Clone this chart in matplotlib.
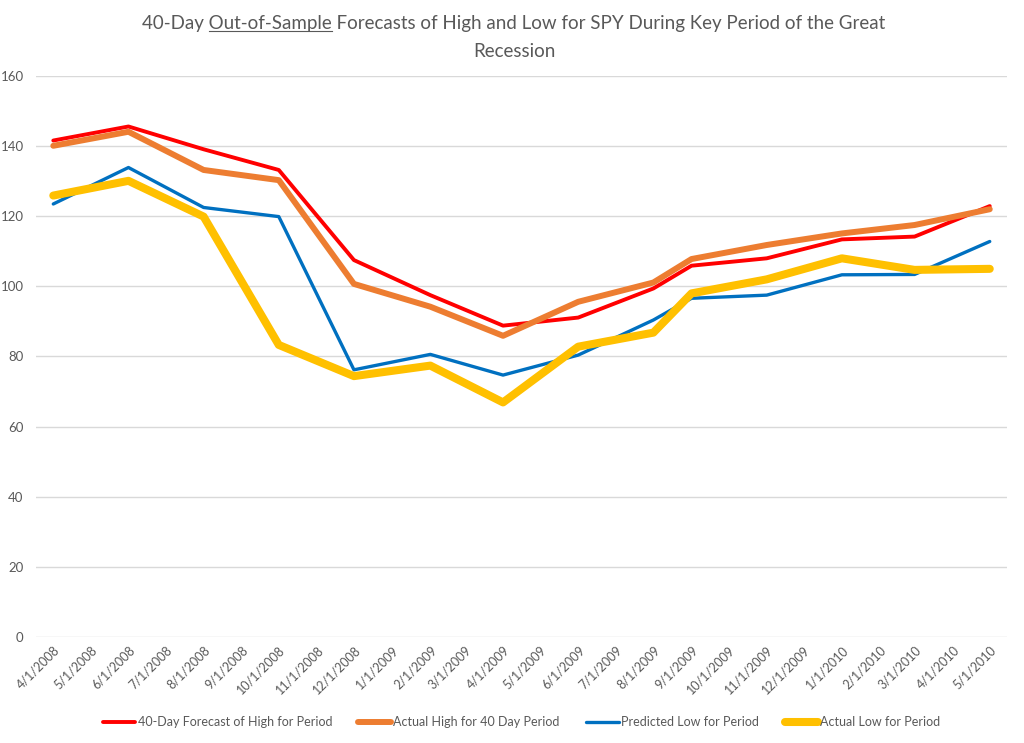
import datetime as dt
import numpy as np
import matplotlib
matplotlib.use("Agg")
from matplotlib import pyplot as plt
import matplotlib.dates as mdates

plt.rcParams['font.family'] = ['Lato', 'DejaVu Sans']

# данные
dates = ["2008-04-01", "2008-06-01", "2008-08-01", "2008-10-01", "2008-12-01",
         "2009-02-01", "2009-04-01", "2009-06-01", "2009-08-01", "2009-09-01",
         "2009-11-01", "2010-01-01", "2010-03-01", "2010-05-01"]
forecast_high = [141.6, 145.6, 139.1, 133.2, 107.5, 97.5, 88.8,
                 91.1, 99.4, 105.9, 108.0, 113.4, 114.2, 122.9]
actual_high = [140.1, 144.1, 133.2, 130.3, 100.7, 94.2, 85.9,
               95.6, 101.1, 107.8, 111.8, 115.1, 117.5, 122.0]
predicted_low = [123.5, 133.9, 122.5, 119.9, 76.2, 80.6, 74.7,
                 80.4, 90.4, 96.6, 97.5, 103.3, 103.4, 112.8]
actual_low = [125.9, 130.1, 119.9, 83.3, 74.4, 77.4, 66.9,
              82.8, 86.8, 98.0, 102.0, 108.0, 104.7, 105.0]

series_names = ["40-Day Forecast of High for Period", "Actual High for 40 Day Period",
                "Predicted Low for Period", "Actual Low for Period"]
colors = ["#FF0000", "#ED7D31", "#0070C0", "#FFC000"]
widths = [2.8, 4.3, 2.4, 5.8]

x = [dt.datetime.strptime(d, "%Y-%m-%d") for d in dates]

fig = plt.figure(figsize=(10.24, 7.43), dpi=100)
ax = fig.add_axes([0.0352, 0.1427, 0.9482, 0.755])

for vals, name, c, w in zip([forecast_high, actual_high, predicted_low, actual_low],
                            series_names, colors, widths):
    ax.plot(x, vals, color=c, linewidth=w, label=name, solid_capstyle='round',
            solid_joinstyle='round')

ax.set_ylim(0, 160)
ax.set_yticks(np.arange(0, 161, 20))
ax.set_xlim(x[0] - dt.timedelta(days=14), x[-1] + dt.timedelta(days=14))
ax.xaxis.set_major_locator(mdates.MonthLocator())
ax.xaxis.set_major_formatter(plt.FuncFormatter(
    lambda v, p: "{d.month}/{d.day}/{d.year}".format(d=mdates.num2date(v))))

ax.grid(True, axis='y', color='#D9D9D9', linewidth=1)
ax.set_axisbelow(True)
for s in ax.spines.values():
    s.set_visible(False)
ax.tick_params(axis='both', length=0, colors='#595959')
ax.tick_params(axis='y', pad=9, labelsize=9.5)
ax.tick_params(axis='x', pad=5, labelsize=9)
for lbl in ax.get_xticklabels():
    lbl.set_rotation(45)
    lbl.set_ha('right')
    lbl.set_rotation_mode('anchor')

leg = ax.legend(loc='center', bbox_to_anchor=(0.5, -0.152), ncol=4, frameon=False,
                fontsize=9, handlelength=2.6, handletextpad=0.2, columnspacing=2.1)
for t in leg.get_texts():
    t.set_color('#595959')

# заголовок с подчёркиванием
title_kw = dict(fontsize=13.5, color='#595959', ha='center', va='baseline')
line1 = "40-Day Out-of-Sample Forecasts of High and Low for SPY During Key Period of the Great"
t1 = fig.text(0.502, 1 - 29 / 743, line1, **title_kw)
fig.text(0.502, 1 - 57 / 743, "Recession", **title_kw)

fig.canvas.draw()
r = fig.canvas.get_renderer()
bb = t1.get_window_extent(r)
tmp = fig.text(0, 0, "40-Day Out-of-Sample", fontsize=13.5)
w_pre = tmp.get_window_extent(r).width
tmp.set_text("Out-of-Sample")
w_word = tmp.get_window_extent(r).width
tmp.remove()
x0 = bb.x0 + w_pre - w_word
y_u = bb.y0 + 1
fig.add_artist(plt.Line2D([x0 / fig.bbox.width, (x0 + w_word) / fig.bbox.width],
                          [y_u / fig.bbox.height] * 2, color='#595959', linewidth=0.8))

plt.savefig("out.png")
plt.close(fig)
